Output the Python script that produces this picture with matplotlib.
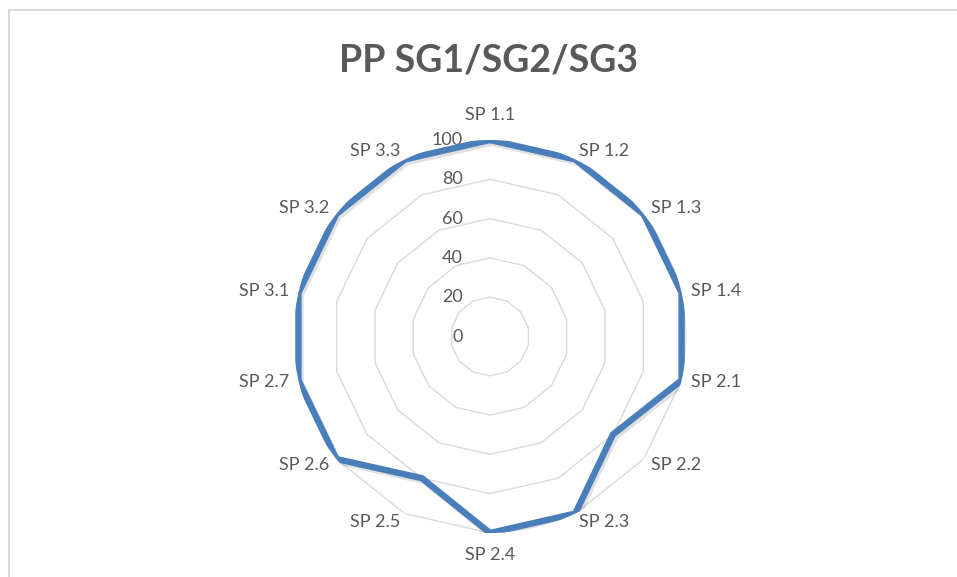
import numpy as np
import matplotlib
matplotlib.use("Agg")
import matplotlib.pyplot as plt
import matplotlib.patheffects as pe
from matplotlib.patches import Rectangle

# data
categories = ["SP 1.1", "SP 1.2", "SP 1.3", "SP 1.4", "SP 2.1", "SP 2.2", "SP 2.3",
              "SP 2.4", "SP 2.5", "SP 2.6", "SP 2.7", "SP 3.1", "SP 3.2", "SP 3.3"]
values = [100, 100, 100, 100, 100, 80, 100, 100, 80, 100, 100, 100, 100, 100]
ring_ticks = [0, 20, 40, 60, 80, 100]
title = "PP SG1/SG2/SG3"

text_color = "#595959"
grid_color = "#D9D9D9"
line_color = "#4A7EBB"

plt.rcParams['font.family'] = ['Lato', 'DejaVu Sans']

W, H = 957, 577
fig = plt.figure(figsize=(W / 100, H / 100), dpi=100)

# chart border (only left/top visible in the crop)
fig.patches.append(Rectangle((9 / W, -0.2), 1.5, 1.2 - 10 / H,
                             transform=fig.transFigure, fill=False,
                             edgecolor=grid_color, linewidth=1.5))

cx, cy, rad = 490, 336.5, 196.5
ax = fig.add_axes([(cx - rad) / W, (H - cy - rad) / H, 2 * rad / W, 2 * rad / H],
                  projection="polar")
ax.set_theta_zero_location("N")
ax.set_theta_direction(-1)
ax.set_ylim(0, 100)
ax.grid(False)
ax.spines["polar"].set_visible(False)
ax.set_xticks([])
ax.set_yticks([])
ax.patch.set_alpha(0)

n = len(categories)
theta = np.arange(n) * 2 * np.pi / n
theta_closed = np.append(theta, theta[0])

# polygon rings
for t in ring_ticks[1:]:
    ax.plot(theta_closed, [t] * (n + 1), color=grid_color, lw=1.0, zorder=1)

# ring value labels
for t in ring_ticks:
    ax.annotate(str(t), xy=(0, t), xytext=(-27, 0), textcoords="offset pixels",
                ha="right", va="center", fontsize=13, color=text_color, zorder=3)

# data line
vals_closed = values + values[:1]
ax.plot(theta_closed, vals_closed, color=line_color, lw=4.6, solid_joinstyle="miter",
        zorder=4,
        path_effects=[pe.SimpleLineShadow(offset=(1.5, -2), shadow_color="k", alpha=0.12),
                      pe.Normal()])

# category labels
for th, lab in zip(theta, categories):
    s, c = np.sin(th), np.cos(th)
    if abs(s) < 0.1:
        ha = "center"
        va = "bottom" if c > 0 else "top"
        d = 17 if c > 0 else 14
    else:
        ha = "left" if s > 0 else "right"
        va = "center"
        d = 9.5
    ax.annotate(lab, xy=(th, 100), xytext=(d * s, d * c), textcoords="offset pixels",
                ha=ha, va=va, fontsize=13, color=text_color, zorder=5,
                annotation_clip=False)

fig.text(488 / W, 1 - 60 / H, title, ha="center", va="center", fontsize=27,
         fontweight="bold", color=text_color)

fig.savefig("out.png", dpi=100, facecolor="white")
